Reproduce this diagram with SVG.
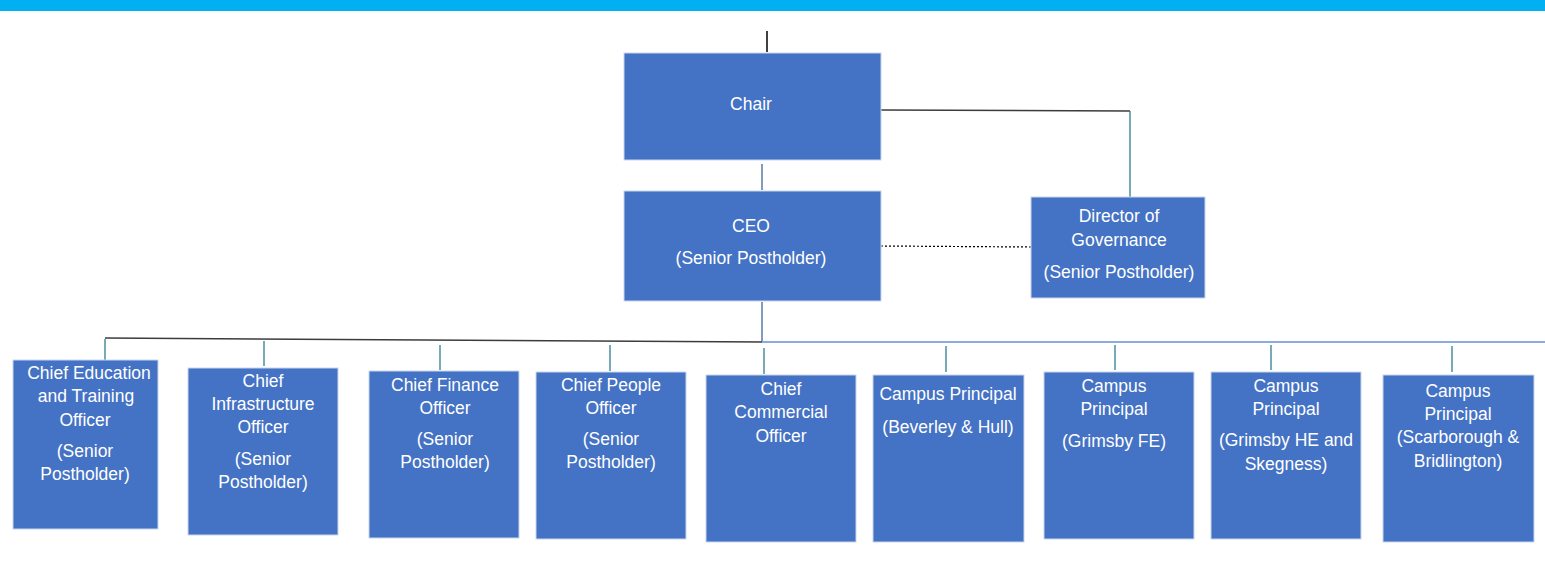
<svg xmlns="http://www.w3.org/2000/svg" width="1545" height="583" viewBox="0 0 1545 583">
<style>
.box{fill:#4472C4;stroke:#C9D6EE;stroke-width:1}
.t{font-family:"Liberation Sans",Arial,sans-serif;font-size:17.5px;fill:#FFFFFF;text-anchor:middle}
.dk{stroke:#3C3C3C;stroke-width:1.5;fill:none}
.tl{stroke:#2E7D91;stroke-width:1.3;fill:none}
.lb{stroke:#8EA9DB;stroke-width:2;fill:none}
</style>
<rect x="0" y="0" width="1545" height="11" fill="#00B0F0"/>
<g id="connectors">
<line class="dk" x1="767" y1="31" x2="767" y2="52" style="stroke:#000"/>
<polyline class="dk" points="881,110 1130,111"/>
<line class="tl" x1="1130" y1="111" x2="1130" y2="197"/>
<line x1="762" y1="164" x2="762" y2="190" stroke="#2F5597" stroke-width="1.2"/>
<line x1="881" y1="246" x2="1031" y2="247" stroke="#000" stroke-width="1.2" stroke-dasharray="2,2"/>
<line x1="762" y1="302" x2="762" y2="342" stroke="#2F5597" stroke-width="1.2"/>
<line class="dk" x1="105" y1="338" x2="765" y2="342"/>
<line class="lb" x1="762" y1="342" x2="1545" y2="342"/>
<line class="tl" x1="105" y1="339" x2="105" y2="362"/>
<line class="tl" x1="264" y1="341" x2="264" y2="366"/>
<line class="tl" x1="440" y1="345" x2="440" y2="370"/>
<line class="tl" x1="610" y1="345" x2="610" y2="371"/>
<line class="tl" x1="764" y1="348" x2="764" y2="374"/>
<line class="tl" x1="946" y1="346" x2="946" y2="372"/>
<line class="tl" x1="1115" y1="345" x2="1115" y2="370"/>
<line class="tl" x1="1271" y1="345" x2="1271" y2="370"/>
<line class="tl" x1="1452" y1="346" x2="1452" y2="372"/>
</g>
<g id="chair">
<rect class="box" x="624" y="53" width="257" height="107"/>
<text class="t" x="751" y="110">Chair</text>
</g>
<g id="ceo">
<rect class="box" x="624" y="191" width="257" height="110"/>
<text class="t" x="751" y="232">CEO</text>
<text class="t" x="751" y="264">(Senior Postholder)</text>
</g>
<g id="director">
<rect class="box" x="1031" y="197" width="174" height="101"/>
<text class="t" x="1119" y="222">Director of</text>
<text class="t" x="1119" y="246">Governance</text>
<text class="t" x="1119" y="278">(Senior Postholder)</text>
</g>
<g id="ceto">
<rect class="box" x="13" y="360" width="145" height="169"/>
<text class="t" x="89" y="379">Chief Education</text>
<text class="t" x="86" y="402">and Training</text>
<text class="t" x="85" y="426">Officer</text>
<text class="t" x="85" y="457">(Senior</text>
<text class="t" x="85" y="480">Postholder)</text>
</g>
<g id="cio">
<rect class="box" x="188" y="368" width="150" height="167"/>
<text class="t" x="263" y="387">Chief</text>
<text class="t" x="263" y="410">Infrastructure</text>
<text class="t" x="263" y="433">Officer</text>
<text class="t" x="263" y="465">(Senior</text>
<text class="t" x="263" y="488">Postholder)</text>
</g>
<g id="cfo">
<rect class="box" x="369" y="371" width="150" height="167"/>
<text class="t" x="445" y="391">Chief Finance</text>
<text class="t" x="445" y="414">Officer</text>
<text class="t" x="445" y="445">(Senior</text>
<text class="t" x="445" y="468">Postholder)</text>
</g>
<g id="cpo">
<rect class="box" x="536" y="372" width="150" height="167"/>
<text class="t" x="611" y="391">Chief People</text>
<text class="t" x="611" y="414">Officer</text>
<text class="t" x="611" y="445">(Senior</text>
<text class="t" x="611" y="468">Postholder)</text>
</g>
<g id="cco">
<rect class="box" x="706" y="375" width="150" height="167"/>
<text class="t" x="781" y="395">Chief</text>
<text class="t" x="781" y="418">Commercial</text>
<text class="t" x="781" y="442">Officer</text>
</g>
<g id="cp-beverley">
<rect class="box" x="873" y="375" width="151" height="167"/>
<text class="t" x="948" y="400">Campus Principal</text>
<text class="t" x="948" y="433">(Beverley &amp; Hull)</text>
</g>
<g id="cp-grimsby-fe">
<rect class="box" x="1044" y="372" width="150" height="167"/>
<text class="t" x="1114" y="392">Campus</text>
<text class="t" x="1114" y="415">Principal</text>
<text class="t" x="1114" y="447">(Grimsby FE)</text>
</g>
<g id="cp-grimsby-he">
<rect class="box" x="1211" y="372" width="150" height="167"/>
<text class="t" x="1286" y="392">Campus</text>
<text class="t" x="1286" y="415">Principal</text>
<text class="t" x="1286" y="446">(Grimsby HE and</text>
<text class="t" x="1286" y="470">Skegness)</text>
</g>
<g id="cp-scarborough">
<rect class="box" x="1383" y="375" width="151" height="167"/>
<text class="t" x="1458" y="397">Campus</text>
<text class="t" x="1458" y="420">Principal</text>
<text class="t" x="1458" y="443">(Scarborough &amp;</text>
<text class="t" x="1458" y="467">Bridlington)</text>
</g>
</svg>
